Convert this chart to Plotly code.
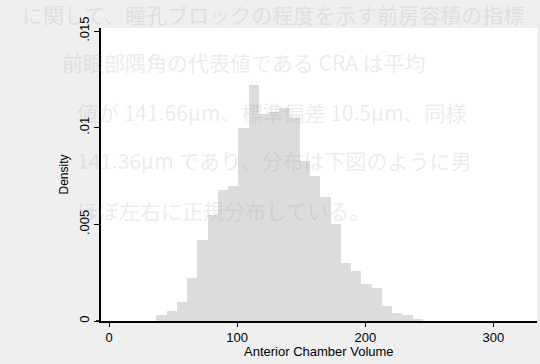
import plotly.graph_objects as go

# Histogram of Anterior Chamber Volume (density scale), bins of width 8 starting at 37
bin_start = 37
bin_width = 8
density = [0.0003, 0.0005, 0.0010, 0.0022, 0.0042, 0.0055, 0.0068, 0.0070,
           0.0100, 0.0122, 0.0107, 0.0108, 0.0110, 0.0105, 0.0083, 0.0075,
           0.0064, 0.0050, 0.0030, 0.0026, 0.0019, 0.0017, 0.0008, 0.0004,
           0.0003, 0.0001]
bin_centers = [bin_start + bin_width * (i + 0.5) for i in range(len(density))]

x_ticks = [0, 100, 200, 300]
y_ticks = [0, 0.005, 0.01, 0.015]
y_ticklabels = ["0", ".005", ".01", ".015"]

# faint bleed-through text from the reverse side of the scanned page
ghost_lines = [
    "に関して、瞳孔ブロックの程度を示す前房容積の指標",
    "前眼部隅角の代表値である CRA は平均",
    "値が 141.66μm、標準偏差 10.5μm、同様",
    "141.36μm であり、分布は下図のように男",
    "ほぼ左右に正規分布している。",
]
ghost_y = [14, 62, 112, 160, 210]
ghost_x = [20, 60, 75, 75, 75]

fig = go.Figure()
fig.add_trace(go.Bar(
    x=bin_centers, y=density, width=bin_width,
    marker=dict(color="#dcdcdc", line=dict(width=0)),
    showlegend=False,
))

for txt, yy, xx in zip(ghost_lines, ghost_y, ghost_x):
    fig.add_annotation(
        text=txt, xref="paper", yref="paper",
        x=(xx - 101) / 436, y=1 - (yy - 28) / 293,
        xanchor="left", yanchor="middle", showarrow=False,
        font=dict(family="Noto Sans CJK JP", size=21, color="rgba(150,150,150,0.2)"),
    )

# x-axis title placed as in the reference
fig.add_annotation(
    text="Anterior Chamber Volume", xref="paper", yref="paper",
    x=0.5, y=-(351 - 321) / 293, xanchor="center", yanchor="middle",
    showarrow=False, font=dict(family="Liberation Sans, Arial", size=13, color="black"),
)

# small extension of the x-axis line to the left of the y axis (Stata style)
fig.add_shape(type="line", xref="paper", yref="paper",
              x0=-5 / 436, x1=0, y0=0, y1=0,
              line=dict(color="black", width=1.5))

font = dict(family="Liberation Sans, Arial", size=13, color="black")

fig.update_layout(
    width=540, height=364,
    margin=dict(l=101, r=3, t=28, b=43),
    paper_bgcolor="#efefef",
    plot_bgcolor="white",
    bargap=0,
    font=font,
    xaxis=dict(
        range=[-6.25, 334], tickvals=x_ticks, ticks="outside", ticklen=4,
        tickcolor="black", showline=True, linecolor="black", linewidth=1.5,
        showgrid=False, zeroline=False, tickfont=dict(size=13),
    ),
    yaxis=dict(
        range=[0, 0.01516], tickvals=y_ticks, ticktext=y_ticklabels,
        ticks="outside", ticklen=5, tickcolor="black", tickangle=-90,
        showline=True, linecolor="black", linewidth=1.5,
        showgrid=False, zeroline=False, tickfont=dict(size=13),
        title=dict(text="Density", font=dict(size=12), standoff=6),
    ),
)

fig.write_html("out.html")
